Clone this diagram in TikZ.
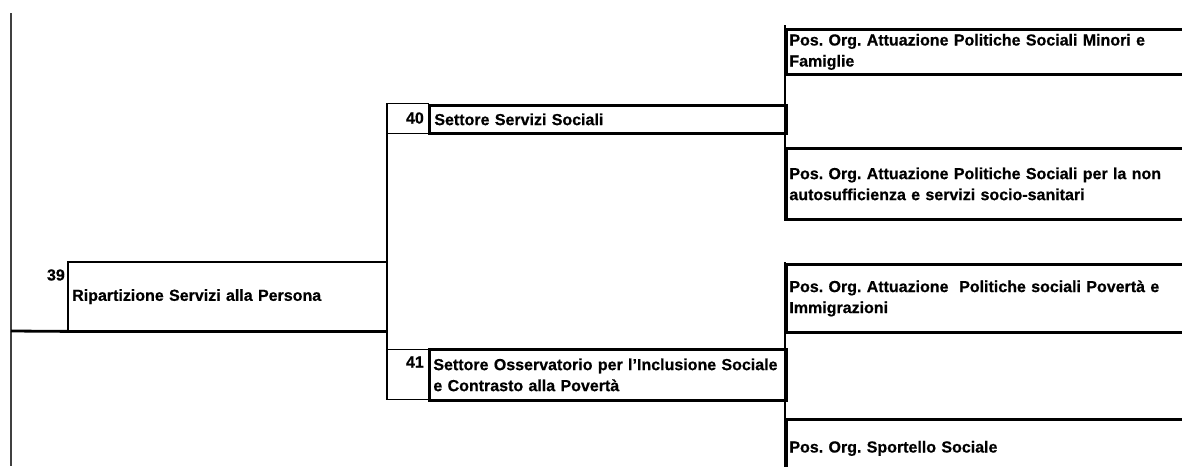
\documentclass[tikz,border=0pt]{standalone}
\usepackage{fontspec}
\setmainfont{Liberation Sans}[BoldFeatures={FakeBold=0.6}]
\begin{document}
\frenchspacing
\begin{tikzpicture}[x=1pt,y=-1pt,
  txt/.style={font=\bfseries\fontsize{16}{21}\selectfont, text=black},
  box/.style={rectangle, anchor=north west, inner ysep=0pt, align=left, txt},
  framed/.style={box, draw=black, line width=2.8pt},
  numcell/.style={rectangle, draw=black, line width=1.3pt, anchor=north west, inner sep=0pt},
  num/.style={txt, inner sep=0pt, anchor=east},
  thinline/.style={line width=1.3pt, draw=black},
  thickline/.style={line width=2.8pt, draw=black}]
\clip (0,0) rectangle (1182,466);

% left vertical line
\coordinate (Ltop) at (11,13);
\coordinate (Lbot) at (11,466);
\coordinate (Lmid) at (11,331);
\draw[line width=2pt, draw=black!75] (Ltop) -- (Lbot);

% box 39
\node[box, inner xsep=4pt, text width=311pt, minimum width=319pt, minimum height=69pt] (b39) at (68,262) {Ripartizione Servizi alla Persona};
\node[num] (n39) at (65,275) {39};
\draw[thickline] (b39.north east) -- (b39.north west) -- ([yshift=-2pt]b39.south west);
\draw[thickline] (Lmid) -- (b39.south west) -- (b39.south east);

% box 40
\node[numcell, minimum width=41pt, minimum height=30pt] (c40) at (387,103) {};
\node[num] (n40) at (424,118) {40};
\node[framed, inner xsep=5pt, text width=347pt, minimum width=357pt, minimum height=28pt] (b40) at (428,104) {Settore Servizi Sociali};

% box 41
\node[numcell, minimum width=41pt, minimum height=50pt] (c41) at (387,349) {};
\node[num] (n41) at (424,362) {41};
\node[framed, inner xsep=4pt, text width=349pt, minimum width=357pt, minimum height=51pt] (b41) at (428,348) {Settore Osservatorio per l'Inclusione Sociale\\e Contrasto alla Povertà};

% connector from 39 to sectors
\draw[thinline] (c40.north west) -- (c41.south west);

% right boxes, upper group
\node[framed, inner xsep=3pt, text width=404pt, minimum width=410pt, minimum height=45pt] (pa) at (785,28) {Pos. Org. Attuazione Politiche Sociali Minori e\\Famiglie};
\node[framed, inner xsep=3pt, text width=404pt, minimum width=410pt, minimum height=71pt] (pb) at (785,147) {Pos. Org. Attuazione Politiche Sociali per la non\\autosufficienza e servizi socio-sanitari};
\draw[thickline] ([yshift=3pt]pa.north west) -- (pb.south west);

% right boxes, lower group
\node[framed, inner xsep=3pt, text width=404pt, minimum width=410pt, minimum height=68pt] (pc) at (785,263) {Pos. Org. Attuazione\ \ Politiche sociali Povertà e\\Immigrazioni};
\node[framed, inner xsep=3pt, text width=404pt, minimum width=410pt, minimum height=58pt] (pd) at (785,418) {Pos. Org. Sportello Sociale};
\draw[thickline] ([yshift=1pt]pc.north west) -- (pd.south west);
\end{tikzpicture}
\end{document}
